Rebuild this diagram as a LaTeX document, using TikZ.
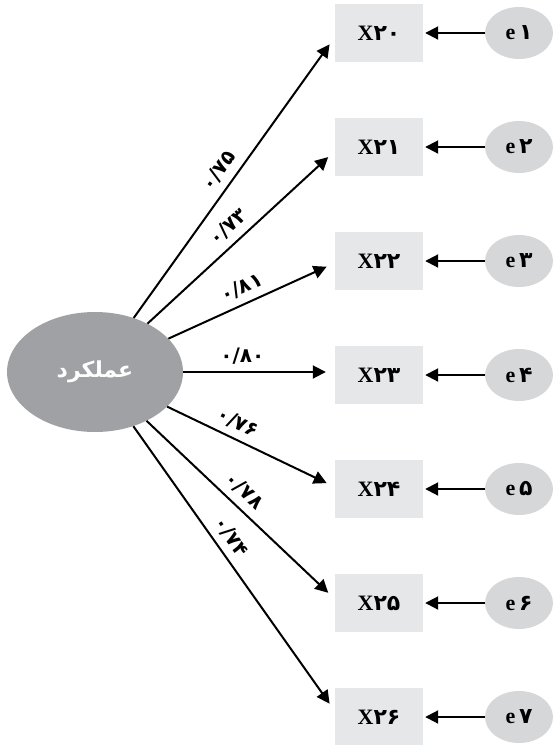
\documentclass[tikz,border=0pt]{standalone}
\usepackage{fontspec}
\setmainfont{Liberation Serif}
\newfontfamily\fa[Script=Arabic]{DejaVu Sans}
\TeXXeTstate=1
\usetikzlibrary{arrows.meta,shapes.geometric}
\definecolor{latent}{RGB}{160,161,165}
\definecolor{boxfill}{RGB}{230,231,232}
\definecolor{errfill}{RGB}{214,215,217}
\begin{document}
\begin{tikzpicture}[x=1pt,y=-1pt,
  obs/.style={rectangle, fill=boxfill, minimum width=88pt, minimum height=58pt, inner sep=0pt, font=\fontsize{22}{22}\selectfont\bfseries},
  err/.style={ellipse, fill=errfill, minimum width=68pt, minimum height=52pt, inner sep=0pt, font=\fontsize{22}{22}\selectfont\bfseries},
  lat/.style={ellipse, fill=latent, minimum width=176pt, minimum height=120pt, inner sep=0pt, text=white, font=\fontsize{22}{22}\selectfont\fa\bfseries},
  patharrow/.style={line width=2pt, shorten >=9pt, -{Triangle[length=13pt,width=13pt]}},
  errarrow/.style={line width=2pt, shorten >=2pt, -{Triangle[length=13pt,width=13pt]}},
  coef/.style={sloped, above=6pt, inner sep=1pt, font=\fontsize{20}{20}\selectfont\fa\bfseries},
]
\useasboundingbox (0,0) rectangle (555,745);

\node[lat] (M) at (95,372) {\beginR عملکرد\endR};

\node[obs] (b1) at (379,33)  {X{\fa ۲۰}};
\node[obs] (b2) at (379,147) {X{\fa ۲۱}};
\node[obs] (b3) at (379,261) {X{\fa ۲۲}};
\node[obs] (b4) at (379,375) {X{\fa ۲۳}};
\node[obs] (b5) at (379,489) {X{\fa ۲۴}};
\node[obs] (b6) at (379,603) {X{\fa ۲۵}};
\node[obs] (b7) at (379,717) {X{\fa ۲۶}};

\node[err] (e1) at (519,33)  {e\,{\fa ۱}};
\node[err] (e2) at (519,147) {e\,{\fa ۲}};
\node[err] (e3) at (519,261) {e\,{\fa ۳}};
\node[err] (e4) at (519,375) {e\,{\fa ۴}};
\node[err] (e5) at (519,489) {e\,{\fa ۵}};
\node[err] (e6) at (519,603) {e\,{\fa ۶}};
\node[err] (e7) at (519,717) {e\,{\fa ۷}};

\foreach \i in {1,...,7}{\draw[errarrow] (e\i) -- (b\i);}

\draw[patharrow] (M) -- ([yshift=-4pt]b1.west) node[coef,pos=0.49] {۰/۷۵};
\draw[patharrow] (M) -- ([yshift=-4pt]b2.west) node[coef,pos=0.49] {۰/۷۳};
\draw[patharrow] (M) -- ([yshift=-2pt]b3.west) node[coef,pos=0.48] {۰/۸۱};
\draw[patharrow] (M) -- ([yshift=3pt]b4.west) node[coef,pos=0.39] {۰/۸۰};
\draw[patharrow] (M) -- ([yshift=2pt]b5.west) node[coef,pos=0.38] {۰/۷۶};
\draw[patharrow] (M) -- ([yshift=4pt]b6.west) node[coef,pos=0.46] {۰/۷۸};
\draw[patharrow] (M) -- ([yshift=6pt]b7.west) node[coef,pos=0.42] {۰/۷۴};
\end{tikzpicture}
\end{document}
